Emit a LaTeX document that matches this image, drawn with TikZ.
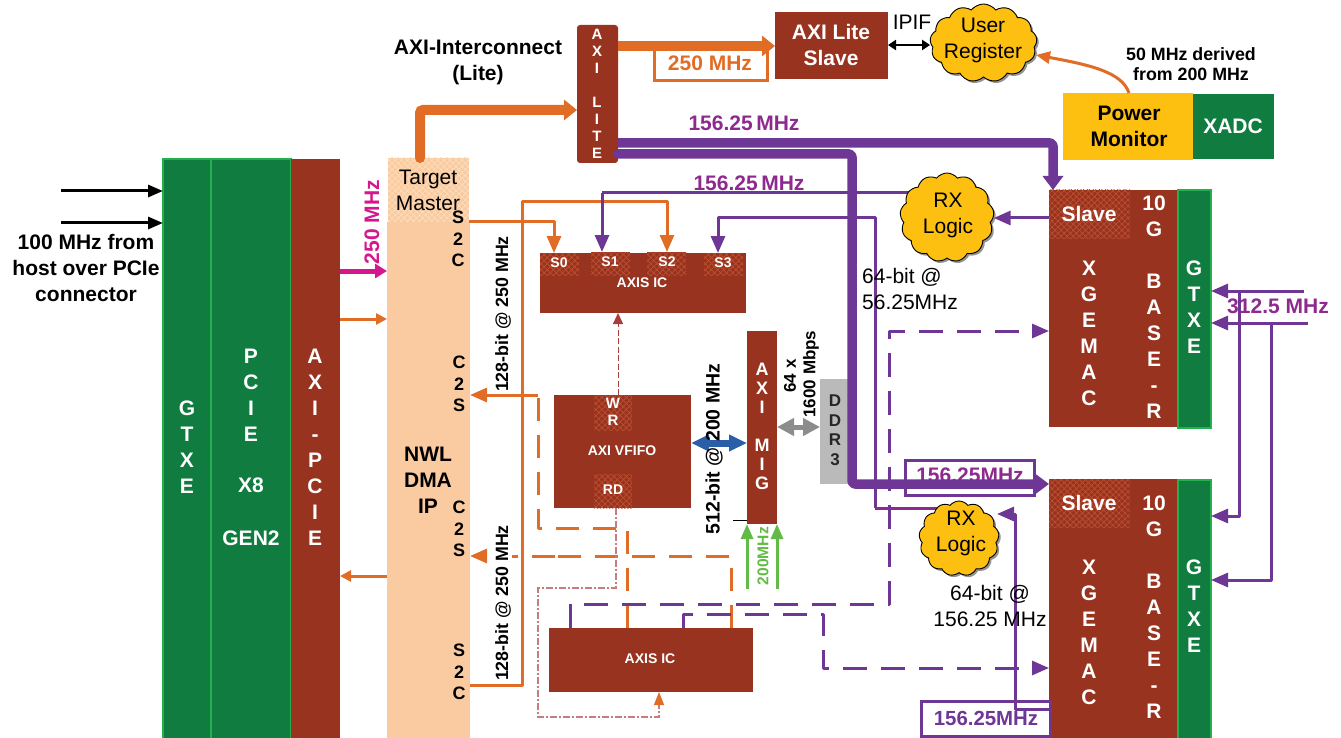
\documentclass[tikz,border=0pt]{standalone}
\usepackage{fontspec}
\setmainfont{Liberation Sans}
\usetikzlibrary{arrows.meta,patterns.meta,shapes.symbols,shadows}
\definecolor{brownC}{HTML}{983320}
\definecolor{hatchC}{HTML}{BC4F30}
\definecolor{greenC}{HTML}{107C3F}
\definecolor{greenL}{HTML}{22B14C}
\definecolor{peachC}{HTML}{FACBA0}
\definecolor{peachL}{HTML}{FCDDBF}
\definecolor{orangeC}{HTML}{E06C25}
\definecolor{purpleC}{HTML}{6F3795}
\definecolor{purpleT}{HTML}{8E2A8E}
\definecolor{yellowC}{HTML}{FDBF10}
\definecolor{pinkC}{HTML}{D5168F}
\definecolor{greenA}{HTML}{62BB46}
\definecolor{blueC}{HTML}{2A5FA8}
\definecolor{pinkD}{HTML}{C97C7C}
\definecolor{redD}{HTML}{A83C3C}
\pgfdeclarelayer{fg}
\pgfsetlayers{main,fg}
\newcommand{\bx}[6]{\node[#2,minimum width={(#5-#3)*1pt},minimum height={(#6-#4)*1pt}] (#1) at ({(#3+#5)/2},{(#4+#6)/2}) {};}
\newcommand{\tx}[5]{\node[#2] (#1) at (#3,#4) {#5};}
\tikzset{
  base/.style={inner sep=0pt,outer sep=0pt},
  brownbox/.style={base,fill=brownC},
  greenbox/.style={base,fill=greenC},
  gtbox/.style={base,fill=greenC,draw=greenL,line width=2pt},
  hatch/.style={base,fill=brownC,postaction={pattern={Hatch[angle=45,distance=4.3pt,line width=.7pt]},pattern color=hatchC}},
  hatchlight/.style={base,fill=peachC,postaction={pattern={Hatch[angle=45,distance=4.3pt,line width=.7pt]},pattern color=peachL}},
  lbl/.style={inner sep=0pt,align=center},
  f21/.style={lbl,font=\fontsize{21}{26}\selectfont},
  bwhite/.style={lbl,text=white,font=\fontsize{21}{26}\bfseries\selectfont},
  bblack/.style={lbl,font=\fontsize{21}{26}\bfseries\selectfont},
  sblack/.style={lbl,font=\fontsize{18}{21.7}\bfseries\selectfont},
  mig/.style={lbl,text=white,font=\fontsize{18}{19}\bfseries\selectfont},
  lite/.style={lbl,text=white,font=\fontsize{15}{17}\bfseries\selectfont},
  small/.style={lbl,text=white,font=\fontsize{14}{17}\bfseries\selectfont},
  rot/.style={lbl,rotate=90,font=\fontsize{#1}{#1}\bfseries\selectfont},
  plab/.style={lbl,text=purpleT,font=\fontsize{21}{25}\bfseries\selectfont},
  cloudy/.style={cloud,cloud puffs=13,cloud puff arc=105,draw=black,line width=.9pt,fill=yellowC,inner sep=0pt,
    drop shadow={shadow xshift=2pt,shadow yshift=-2pt,fill=black!60,opacity=.7}},
  thick o/.style={draw=orangeC,line width=10pt,-{Triangle[length=13pt,width=20pt]},color=orangeC},
  thick p/.style={draw=purpleC,line width=9.5pt,-{Triangle[length=14pt,width=20pt]},color=purpleC,line join=round},
  thin o/.style={draw=orangeC,line width=3pt,-{Triangle[length=17pt,width=14pt]},color=orangeC,line join=round},
  thin p/.style={draw=purpleC,line width=3pt,-{Triangle[length=17pt,width=14pt]},color=purpleC,line join=round},
  dash o/.style={draw=orangeC,line width=3pt,dash pattern=on 23pt off 14pt,line join=round},
  dash p/.style={thin p,dash pattern=on 24pt off 14pt},
}
\begin{document}
\begin{tikzpicture}[x=1pt,y=-1pt]
\useasboundingbox (0,0) rectangle (1341,738);
% ---- boxes
\bx{gtxl}{gtbox}{163}{159}{211}{739}
\bx{pcie}{gtbox}{211}{159}{291}{739}
\bx{axipcie}{brownbox}{291}{159}{340}{739}
\bx{nwl}{base,fill=peachC}{387}{222}{470}{739}
\bx{nwltop}{hatchlight}{388}{158}{469}{222}
\bx{axilite}{base,fill=brownC,rounded corners=3pt}{577}{25}{618}{163}
\bx{slave}{brownbox}{775}{12}{888}{79}
\bx{pm}{base,fill=yellowC}{1063}{93}{1193}{160}
\bx{xadc}{greenbox}{1193}{94}{1274}{159}
\bx{axist}{brownbox}{540}{253}{746}{313}
\bx{s0}{hatch}{540}{253}{579}{275}
\bx{s1}{hatch}{591}{252}{630}{275}
\bx{s2}{hatch}{647}{252}{686}{275}
\bx{s3}{hatch}{704}{253}{743}{275}
\bx{vf}{brownbox}{554}{395}{691}{508}
\bx{wr}{hatch}{594}{395}{632}{430}
\bx{rd}{hatch}{594}{474}{632}{508}
\bx{mig}{brownbox}{747}{331}{777}{524}
\bx{ddr}{base,fill=black!27}{820}{379}{850}{484}
\bx{axib}{brownbox}{549}{628}{753}{692}
\bx{xg1}{brownbox}{1049}{190}{1177}{427}
\bx{sl1}{hatch}{1049}{190}{1130}{238}
\bx{gt1}{gtbox}{1178}{190}{1211}{428}
\bx{xg2}{brownbox}{1049}{479}{1177}{738}
\bx{sl2}{hatch}{1049}{479}{1130}{527}
\bx{gt2}{gtbox}{1178}{480}{1211}{739}
\bx{box250}{base,draw=orangeC,line width=3pt}{654}{46}{767}{81}
\bx{boxp1}{base,draw=purpleC,line width=3pt}{905}{460}{1034}{495}
\bx{boxp2}{base,draw=purpleC,line width=3pt,fill=white}{921}{701}{1050}{736}
% ---- clouds on the upper layer
\begin{pgfonlayer}{fg}
\bx{ur}{cloudy}{930}{4}{1037}{82}
\bx{rx1}{cloudy}{900}{173}{994}{262}
\bx{rx2}{cloudy}{919}{501}{999}{576}
\tx{urt}{f21}{983}{40}{User\\Register}
\tx{rx1t}{f21}{948}{215}{RX\\Logic}
\tx{rx2t}{f21}{961}{533}{RX\\Logic}
\end{pgfonlayer}
% ---- text under the thick connector
\tx{lb1}{plab}{970}{475}{156.25MHz}
% ---- connectors
\coordinate (c1) at (61,191);
\coordinate (c2) at (61,223);
\draw[line width=3pt,-{Triangle[length=15pt,width=12pt]}] (c1) -- (gtxl.west |- c1);
\draw[line width=3pt,-{Triangle[length=15pt,width=12pt]}] (c2) -- (gtxl.west |- c2);
\draw[draw=pinkC,line width=5pt,-{Triangle[length=12pt,width=14pt]},color=pinkC] (axipcie.east |- 0,271) -- (nwl.west |- 0,271);
\draw[draw=orangeC,line width=3pt,-{Triangle[length=11pt,width=11pt]},color=orangeC] (axipcie.east |- 0,319) -- (nwl.west |- 0,319);
\draw[draw=orangeC,line width=3pt,-{Triangle[length=11pt,width=11pt]},color=orangeC] (nwl.west |- 0,576) -- (axipcie.east |- 0,576);
\draw[thick o,rounded corners=3pt,line cap=round] (420,158) -- (420,110) -- (axilite.west |- 0,110);
\draw[thick o] (axilite.east |- 0,46) -- (slave.west |- 0,46);
% thin orange
\draw[thin o] (nwltop.east |- 0,222) -- (554,222) -- (554,0 |- axist.north);
\draw[thin o] (nwl.east |- 0,685) -- (522,685) -- (522,202) -- (667,202) -- (667,0 |- s2.north);
\draw[dash o] (627,0 |- axib.north) -- (627,528) -- (538,528) -- (538,395);
\draw[thin o] (538,395) -- (nwl.east |- 0,395);
\draw[dash o] (731,0 |- axib.north) -- (731,556) -- (555,556);
\draw[thin o,dash pattern=on 23pt off 14pt] (555,556) -- (nwl.east |- 0,556);
% thin purple
\draw[thin p,-] (rx1.center |- 0,193) -- (602,193);
\draw[thin p] (602,193) -- (602,0 |- s1.north);
\draw[draw=purpleT,line width=3pt] (rx2.center |- 0,508) -- (875,508);
\draw[thin p] (875,508) -- (875,218) -- (718,218) -- (718,0 |- s3.north);
\draw[thin p] (sl1.west |- 0,218) -- (rx1.east |- 0,218);
\draw[thin p] (xg2.west |- 0,709) -- (1015,709) -- (1015,514) -- (997,514);
% dashed purple
\draw[dash p] (570,0 |- axib.north) -- (570,604) -- (889,604) -- (889,331) -- (xg1.west |- 0,331);
\draw[dash p] (683,0 |- axib.north) -- (683,614) -- (823,614) -- (823,668) -- (xg2.west |- 0,668);
% clock lines
\coordinate (k1) at (1304,291);
\coordinate (k2) at (1308,323);
\draw[thin p] (k1) -- (gt1.east |- k1);
\draw[thin p] (k2) -- (gt1.east |- k2);
\draw[thin p] (1239,291) -- (1239,516) -- (gt2.east |- 0,516);
\draw[thin p] (1271,323) -- (1271,580) -- (gt2.east |- 0,580);
% fine dashed
\draw[draw=redD,line width=1pt,dash pattern=on 6pt off 2.5pt,-{Triangle[length=11pt,width=10pt,color=redD,fill=redD]}] (618,0 |- vf.north) -- (618,0 |- axist.south);
\draw[draw=pinkD,line width=1.2pt,dash pattern=on 7pt off 2pt on 2pt off 2pt,-{Triangle[length=13pt,width=10pt,color=orangeC,fill=orangeC]}] (616,0 |- vf.south) -- (616,588) -- (538,588) -- (538,717) -- (659,717) -- (659,0 |- axib.south);
% green, blue, grey
\draw[draw=greenA,line width=3pt,-{Triangle[length=15pt,width=12pt]},color=greenA] (747,589) -- (747,0 |- mig.south);
\draw[draw=greenA,line width=3pt,-{Triangle[length=15pt,width=12pt]},color=greenA] (777,589) -- (777,0 |- mig.south);
\draw[draw=blueC,line width=7pt,{Triangle[length=18pt,width=16pt]}-{Triangle[length=18pt,width=16pt]},color=blueC] (vf.east |- 0,443) -- (mig.west |- 0,443);
\draw[draw=black!45,line width=5pt,{Triangle[length=17pt,width=17pt]}-{Triangle[length=17pt,width=17pt]},color=black!45] (mig.east |- 0,427) -- (ddr.west |- 0,427);
\draw[line width=1pt] (733,520) -- (mig.west |- 0,520);
% thick purple
\draw[thick p,rounded corners=3pt] (axilite.east |- 0,143) -- (1053,143) -- (1053,0 |- sl1.north);
\draw[thick p,rounded corners=3pt,line cap=round] (axilite.east |- 0,154) -- (852,154) -- (852,484) -- (sl2.west |- 0,484);
% IPIF, power monitor
\draw[line width=2.5pt,{Triangle[length=8pt,width=10pt]}-{Triangle[length=8pt,width=10pt]}] (slave.east |- 0,45) -- (ur.west |- 0,45);
\draw[draw=orangeC,line width=3pt,-{Triangle[length=14pt,width=12pt]},color=orangeC] (1129,0 |- pm.north) .. controls (1122,72) and (1090,65) .. (1036,55);
% ---- text
\tx{t01}{bwhite}{187}{447}{G\\T\\X\\E}
\tx{t02}{bwhite}{251}{395}{P\\C\\I\\E}
\tx{t03}{bwhite}{251}{485}{X8}
\tx{t04}{bwhite}{251}{538}{GEN2}
\tx{t05}{bwhite}{315}{447}{A\\X\\I\\-\\P\\C\\I\\E}
\tx{t06}{bblack}{86}{268}{100 MHz from\\host over PCIe\\connector}
\tx{t07}{rot=21,text=pinkC}{372}{222}{250 MHz}
\tx{t08}{f21}{428}{190}{Target\\Master}
\tx{t09}{sblack}{458}{239}{S\\2\\C}
\tx{t10}{sblack}{459}{384}{C\\2\\S}
\tx{t11}{sblack}{459}{529}{C\\2\\S}
\tx{t12}{sblack}{459}{672}{S\\2\\C}
\tx{t13}{bblack}{428}{480}{NWL\\DMA\\IP}
\tx{t14}{rot=17.8,fill=white,inner sep=1pt}{503}{314}{128-bit @ 250 MHz}
\tx{t15}{rot=17.8,fill=white,inner sep=1pt}{503}{603}{128-bit @ 250 MHz}
\tx{t16}{bblack}{478}{62}{AXI-Interconnect\\(Lite)}
\tx{t17}{lite}{597}{94}{A\\X\\I\\ \\L\\I\\T\\E}
\tx{t18}{lbl,text=orangeC,font=\fontsize{21}{25}\bfseries\selectfont}{710}{63}{250 MHz}
\tx{t19}{bwhite}{831}{45}{AXI Lite\\Slave}
\tx{t20}{f21}{912}{22}{IPIF}
\tx{t21}{lbl,font=\fontsize{17.8}{20.5}\bfseries\selectfont}{1191}{64}{50 MHz derived\\from 200 MHz}
\tx{t22}{bblack}{1129}{126}{Power\\Monitor}
\tx{t23}{bwhite}{1233}{126}{XADC}
\tx{t24}{plab}{744}{123}{156.25\,MHz}
\tx{t25}{plab}{749}{183}{156.25\,MHz}
\tx{t26}{small}{559}{263}{S0}
\tx{t27}{small}{610}{262}{S1}
\tx{t28}{small}{667}{262}{S2}
\tx{t29}{small}{723}{263}{S3}
\tx{t30}{small}{642}{283}{AXIS IC}
\tx{t31}{f21,align=left}{910}{289}{64-bit @\\56.25MHz}
\tx{t32}{rot=19.5}{714}{449}{512-bit @ 200 MHz}
\tx{t33}{rot=17}{790}{376}{64 x}
\tx{t34}{rot=17}{811}{374}{1600 Mbps}
\tx{t35}{mig}{762}{426}{A\\X\\I\\ \\M\\I\\G}
\tx{t36}{lbl,font=\fontsize{17}{19.5}\bfseries\selectfont,text=black!85}{835}{430}{D\\D\\R\\3}
\tx{t37}{small}{622}{451}{AXI VFIFO}
\tx{t38}{lbl,text=white,font=\fontsize{15}{17}\bfseries\selectfont}{613}{412}{W\\R}
\tx{t39}{small}{613}{490}{RD}
\tx{t40}{rot=15.6,text=greenA}{763}{556}{200MHz}
\tx{t41}{small}{650}{659}{AXIS IC}
\tx{t42}{bwhite}{1089}{214}{Slave}
\tx{t43}{bwhite}{1089}{333}{X\\G\\E\\M\\A\\C}
\tx{t44}{bwhite}{1154}{307}{10\\G\\ \\B\\A\\S\\E\\-\\R}
\tx{t45}{bwhite}{1194}{307}{G\\T\\X\\E}
\tx{t46}{bwhite}{1089}{503}{Slave}
\tx{t47}{bwhite}{1089}{632}{X\\G\\E\\M\\A\\C}
\tx{t48}{bwhite}{1154}{607}{10\\G\\ \\B\\A\\S\\E\\-\\R}
\tx{t49}{bwhite}{1194}{606}{G\\T\\X\\E}
\tx{t50}{plab}{1278}{306}{312.5 MHz}
\tx{t51}{f21}{990}{606}{64-bit @\\156.25 MHz}
\tx{t52}{lbl,text=purpleC,font=\fontsize{20.4}{25}\bfseries\selectfont}{986}{718}{156.25MHz}
\end{tikzpicture}
\end{document}
